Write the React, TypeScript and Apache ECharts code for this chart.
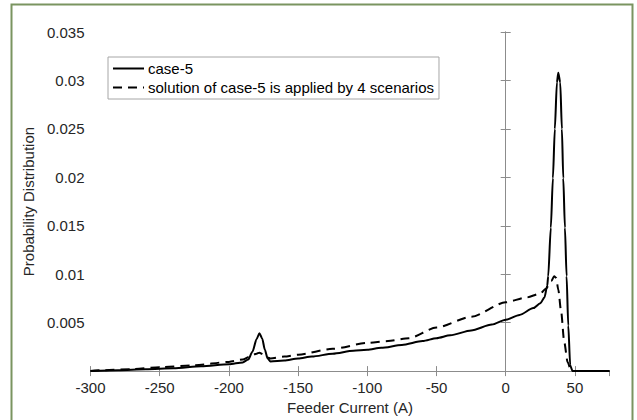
import React, { useEffect, useRef } from "react";
import * as echarts from "echarts";

const caseX = [-300, -280, -260, -240, -220, -200, -190, -186, -183, -180, -178, -176, -174, -172, -170, -160, -150, -140, -125, -110, -100, -90, -75, -60, -50, -40, -25, -10, 0, 10, 20, 25, 28, 30, 30.7, 32.6, 34.1, 35.5, 37, 38, 39.4, 40.6, 41.6, 42.8, 44, 45.2, 46.6, 48.3, 55, 75];
const caseY = [0, 0.0001, 0.0002, 0.0003, 0.0005, 0.0007, 0.0009, 0.0012, 0.002, 0.0033, 0.0039, 0.0034, 0.0022, 0.0013, 0.001, 0.0011, 0.0013, 0.0015, 0.0018, 0.0021, 0.0022, 0.0024, 0.0027, 0.0031, 0.0034, 0.0037, 0.0042, 0.0048, 0.0053, 0.0058, 0.0065, 0.007, 0.0076, 0.0088, 0.0098, 0.0148, 0.0199, 0.025, 0.0298, 0.0308, 0.0298, 0.025, 0.0199, 0.0148, 0.0098, 0.0047, 0.0006, 0, 0, 0];

const scenX = [-300, -290, -270, -250, -225, -200, -190, -185, -180, -178, -175, -172, -170, -160, -150, -125, -100, -85, -70, -50, -25, 0, 15, 25, 29, 33, 35, 36.5, 38, 40, 42.3, 44.7, 47.1, 48.5, 55, 75];
const scenY = [0, 0.0001, 0.0002, 0.0004, 0.0006, 0.00095, 0.0012, 0.0015, 0.0018, 0.0019, 0.0017, 0.0014, 0.0013, 0.0015, 0.0017, 0.0023, 0.0029, 0.0031, 0.0034, 0.0045, 0.0056, 0.0071, 0.0076, 0.008, 0.0085, 0.0093, 0.0098, 0.0096, 0.0084, 0.0062, 0.003, 0.00095, 0.0001, 0, 0, 0];

const seriesNames = ["case-5", "solution of case-5 is applied by 4 scenarios"];
const xAxisName = "Feeder Current (A)";
const yAxisName = "Probability Distribution";

export default function App() {
  const ref = useRef<HTMLDivElement>(null);
  useEffect(() => {
    if (!ref.current) return;
    const chart = echarts.init(ref.current, undefined, { renderer: "svg" });
    const font = "Liberation Sans, Arial, sans-serif";
    const axisColor = "#8c8c8c";
    const textColor = "#262626";
    const fs = 15;
    const xBase = {
      type: "value" as const,
      min: -300,
      max: 75,
      interval: 50,
      splitLine: { show: false },
      axisLine: { show: true, lineStyle: { color: axisColor, width: 1 } },
      axisTick: { show: true, inside: true, length: 5, lineStyle: { color: axisColor } },
    };
    const yBase = {
      type: "value" as const,
      min: 0,
      max: 0.035,
      interval: 0.005,
      splitLine: { show: false },
      axisLine: { show: true, lineStyle: { color: axisColor, width: 1 } },
      axisTick: { show: true, inside: true, length: 5, lineStyle: { color: axisColor } },
    };
    chart.setOption({
      animation: false,
      backgroundColor: "#ffffff",
      textStyle: { fontFamily: font },
      grid: { left: 90.5, right: 27.5, top: 32, bottom: 44, containLabel: false },
      graphic: [
        {
          type: "rect",
          shape: { x: 11.5, y: 4.5, width: 621, height: 440 },
          style: { fill: "none", stroke: "#7a9460", lineWidth: 2 },
          z: 100,
        },
      ],
      legend: {
        show: true,
        left: 108,
        top: 57,
        orient: "vertical",
        itemWidth: 31,
        itemHeight: 14,
        itemGap: 4,
        padding: [4, 5, 4, 4],
        backgroundColor: "#ffffff",
        borderColor: "#a6a6a6",
        borderWidth: 1,
        itemStyle: { opacity: 0 },
        textStyle: { fontSize: fs, color: "#000000", fontFamily: font, padding: [0, 0, 0, -1] },
        data: seriesNames,
      },
      xAxis: [
        {
          ...xBase,
          position: "bottom",
          name: xAxisName,
          nameLocation: "middle",
          nameGap: 21,
          nameTextStyle: { fontSize: fs, color: textColor, fontFamily: font },
          axisLabel: { show: true, fontSize: fs, color: textColor, margin: 9, showMaxLabel: false, fontFamily: font },
        },
        {
          ...xBase,
          position: "top",
          axisLabel: { show: false },
        },
      ],
      yAxis: [
        {
          ...yBase,
          position: "left",
          name: yAxisName,
          nameLocation: "middle",
          nameGap: 42,
          nameTextStyle: { fontSize: fs, color: textColor, fontFamily: font },
          axisLabel: {
            show: true,
            fontSize: fs,
            color: textColor,
            margin: 6,
            fontFamily: font,
            formatter: (v: number) => (v === 0 ? "" : String(parseFloat(v.toFixed(4)))),
          },
        },
        {
          ...yBase,
          position: "right",
          axisLabel: { show: false },
        },
      ],
      series: [
        {
          name: seriesNames[0],
          type: "line",
          xAxisIndex: 0,
          yAxisIndex: 0,
          data: caseX.map((x, i) => [x, caseY[i]]),
          showSymbol: false,
          symbol: "none",
          smooth: 0.25,
          smoothMonotone: "x",
          lineStyle: { color: "#000000", width: 2, type: "solid" },
          itemStyle: { color: "#000000" },
          z: 3,
        },
        {
          name: seriesNames[1],
          type: "line",
          xAxisIndex: 0,
          yAxisIndex: 0,
          data: scenX.map((x, i) => [x, scenY[i]]),
          showSymbol: false,
          symbol: "none",
          smooth: 0.25,
          smoothMonotone: "x",
          lineStyle: { color: "#000000", width: 2, type: [9, 6] },
          itemStyle: { color: "#000000" },
          z: 2,
        },
      ],
    });
    return () => chart.dispose();
  }, []);
  return (
    <div
      ref={ref}
      style={{ position: "fixed", left: 0, top: 0, width: 637, height: 420, background: "#fff" }}
    />
  );
}
